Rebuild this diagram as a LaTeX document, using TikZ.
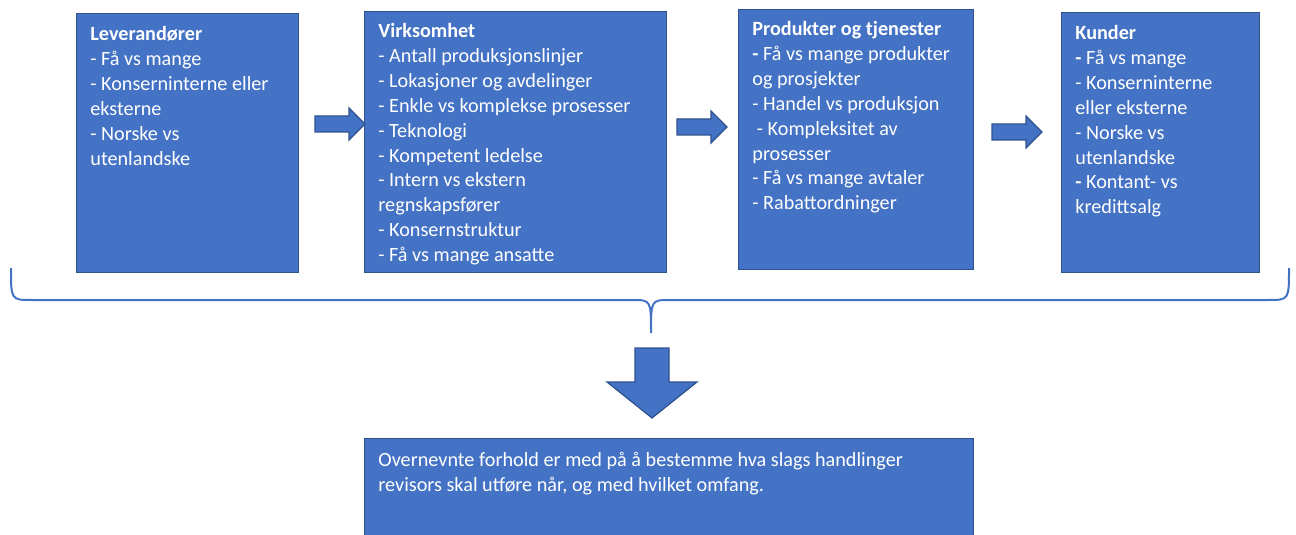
\documentclass[tikz,border=0pt]{standalone}
\usepackage{fontspec}
\setmainfont{Carlito}
\usepackage{xcolor}
\definecolor{boksblaa}{HTML}{4472C4}
\definecolor{kantblaa}{HTML}{2F528F}

\tikzset{
 boks/.style={draw=kantblaa, fill=boksblaa, line width=0.6pt, anchor=north west, inner sep=0pt},
 tekst/.style={anchor=north west, inner sep=0pt, text=white, align=left, font=\fontsize{10.1}{12.45}\selectfont},
 pil/.style={draw=kantblaa, fill=boksblaa, line width=0.6pt, line join=miter}
}

\begin{document}
\begin{tikzpicture}[x=0.5pt, y=-0.5pt]
 \useasboundingbox (0,0) rectangle (1296,535);

 % boksene
 \node[boks, minimum width=111pt, minimum height=129.5pt] (lev) at (76,13) {};
 \node[boks, minimum width=151pt, minimum height=130.5pt] (virk) at (364,11) {};
 \node[boks, minimum width=117.5pt, minimum height=130pt] (prod) at (738,9) {};
 \node[boks, minimum width=99pt, minimum height=130pt] (kund) at (1061,12) {};
 \node[boks, minimum width=304.5pt, minimum height=49pt] (konk) at (364,438) {};

 % tekstene
 \node[tekst] (levtxt) at ([xshift=7pt, yshift=-6.5pt]lev.north west)
  {\textbf{Leverandører}\\- Få vs mange\\- Konserninterne eller\\eksterne\\- Norske vs\\utenlandske};
 \node[tekst] (virktxt) at ([xshift=7pt, yshift=-6pt]virk.north west)
  {\textbf{Virksomhet}\\- Antall produksjonslinjer\\- Lokasjoner og avdelinger\\- Enkle vs komplekse prosesser\\- Teknologi\\- Kompetent ledelse\\- Intern vs ekstern\\regnskapsfører\\- Konsernstruktur\\- Få vs mange ansatte};
 \node[tekst] (prodtxt) at ([xshift=7pt, yshift=-6pt]prod.north west)
  {\textbf{Produkter og tjenester}\\\textbf{-} Få vs mange produkter\\og prosjekter\\- Handel vs produksjon\\\ - Kompleksitet av\\prosesser\\- Få vs mange avtaler\\- Rabattordninger};
 \node[tekst] (kundtxt) at ([xshift=7pt, yshift=-6.5pt]kund.north west)
  {\textbf{Kunder}\\\textbf{-} Få vs mange\\- Konserninterne\\eller eksterne\\- Norske vs\\utenlandske\\\textbf{-} Kontant- vs\\kredittsalg};
 \node[tekst] (konktxt) at ([xshift=7pt, yshift=-7pt]konk.north west)
  {Overnevnte forhold er med på å bestemme hva slags handlinger\\revisors skal utføre når, og med hvilket omfang.};

 % pilene mellom boksene
 \coordinate (p1) at (315,124);
 \coordinate (p2) at (677,127);
 \coordinate (p3) at (992,132);
 \foreach \p in {p1,p2,p3}
  \draw[pil] (\p) ++(0,-8) -- ++(34,0) -- ++(0,-8) -- ++(16,16) -- ++(-16,16) -- ++(0,-8) -- ++(-34,0) -- cycle;

 % klammen
 \coordinate (kl) at (11,268);
 \coordinate (kr) at (1289,268);
 \coordinate (ktupp) at (651,333);
 \draw[boksblaa, line width=1pt]
  (kl) .. controls (11,300) and (11,300) .. (32,300) -- (632,300)
  .. controls (651,300) and (651,300) .. (ktupp)
  .. controls (651,300) and (651,300) .. (670,300) -- (1268,300)
  .. controls (1289,300) and (1289,300) .. (kr);

 % pil ned
 \coordinate (ned) at (652,348);
 \draw[pil] (ned) ++(-17,0) -- ++(34,0) -- ++(0,34) -- ++(28,0) -- ++(-45,36) -- ++(-45,-36) -- ++(28,0) -- cycle;
\end{tikzpicture}
\end{document}
